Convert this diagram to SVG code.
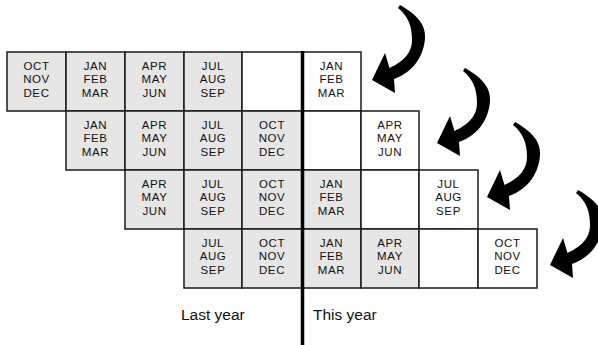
<svg xmlns="http://www.w3.org/2000/svg" xmlns:xlink="http://www.w3.org/1999/xlink" width="598" height="345" viewBox="0 0 598 345">
<style>
.g{fill:#e6e6e6;stroke:#1a1a1a;stroke-width:1.5}
.w{fill:#ffffff;stroke:#1a1a1a;stroke-width:1.5}
.t{font-family:"Liberation Sans",Arial,sans-serif;font-size:11.5px;letter-spacing:0.6px;fill:#111;text-anchor:middle}
.lab{font-family:"Liberation Sans",Arial,sans-serif;font-size:15.5px;fill:#111}
</style>
<defs>
<path id="arr" d="M0,0 L13,-27 L17.5,-12 C30,-18 40,-26 40,-40 C40,-54 36,-64 26,-72 L28,-75 C44,-66 54,-56 53,-42 C52,-25 42,-8 22,-1 L23,13 Z" fill="#000"/>
</defs>
<g id="r1">
<g id="r1c0"><rect class="g" x="7" y="52" width="59" height="59"/><text class="t" x="36.5" y="69.5">OCT</text><text class="t" x="36.5" y="83">NOV</text><text class="t" x="36.5" y="96.5">DEC</text></g>
<g id="r1c1"><rect class="g" x="66" y="52" width="59" height="59"/><text class="t" x="95.5" y="69.5">JAN</text><text class="t" x="95.5" y="83">FEB</text><text class="t" x="95.5" y="96.5">MAR</text></g>
<g id="r1c2"><rect class="g" x="125" y="52" width="59" height="59"/><text class="t" x="154.5" y="69.5">APR</text><text class="t" x="154.5" y="83">MAY</text><text class="t" x="154.5" y="96.5">JUN</text></g>
<g id="r1c3"><rect class="g" x="184" y="52" width="58" height="59"/><text class="t" x="213" y="69.5">JUL</text><text class="t" x="213" y="83">AUG</text><text class="t" x="213" y="96.5">SEP</text></g>
<g id="r1c4"><rect class="w" x="242" y="52" width="60" height="59"/></g>
<g id="r1c5"><rect class="w" x="302" y="52" width="59" height="59"/><text class="t" x="331.5" y="69.5">JAN</text><text class="t" x="331.5" y="83">FEB</text><text class="t" x="331.5" y="96.5">MAR</text></g>
</g>
<g id="r2">
<g id="r2c1"><rect class="g" x="66" y="111" width="59" height="59"/><text class="t" x="95.5" y="128.5">JAN</text><text class="t" x="95.5" y="142">FEB</text><text class="t" x="95.5" y="155.5">MAR</text></g>
<g id="r2c2"><rect class="g" x="125" y="111" width="59" height="59"/><text class="t" x="154.5" y="128.5">APR</text><text class="t" x="154.5" y="142">MAY</text><text class="t" x="154.5" y="155.5">JUN</text></g>
<g id="r2c3"><rect class="g" x="184" y="111" width="58" height="59"/><text class="t" x="213" y="128.5">JUL</text><text class="t" x="213" y="142">AUG</text><text class="t" x="213" y="155.5">SEP</text></g>
<g id="r2c4"><rect class="g" x="242" y="111" width="60" height="59"/><text class="t" x="272" y="128.5">OCT</text><text class="t" x="272" y="142">NOV</text><text class="t" x="272" y="155.5">DEC</text></g>
<g id="r2c5"><rect class="w" x="302" y="111" width="59" height="59"/></g>
<g id="r2c6"><rect class="w" x="361" y="111" width="58" height="59"/><text class="t" x="390" y="128.5">APR</text><text class="t" x="390" y="142">MAY</text><text class="t" x="390" y="155.5">JUN</text></g>
</g>
<g id="r3">
<g id="r3c2"><rect class="g" x="125" y="170" width="59" height="59"/><text class="t" x="154.5" y="187.5">APR</text><text class="t" x="154.5" y="201">MAY</text><text class="t" x="154.5" y="214.5">JUN</text></g>
<g id="r3c3"><rect class="g" x="184" y="170" width="58" height="59"/><text class="t" x="213" y="187.5">JUL</text><text class="t" x="213" y="201">AUG</text><text class="t" x="213" y="214.5">SEP</text></g>
<g id="r3c4"><rect class="g" x="242" y="170" width="60" height="59"/><text class="t" x="272" y="187.5">OCT</text><text class="t" x="272" y="201">NOV</text><text class="t" x="272" y="214.5">DEC</text></g>
<g id="r3c5"><rect class="g" x="302" y="170" width="59" height="59"/><text class="t" x="331.5" y="187.5">JAN</text><text class="t" x="331.5" y="201">FEB</text><text class="t" x="331.5" y="214.5">MAR</text></g>
<g id="r3c6"><rect class="w" x="361" y="170" width="58" height="59"/></g>
<g id="r3c7"><rect class="w" x="419" y="170" width="59" height="59"/><text class="t" x="448.5" y="187.5">JUL</text><text class="t" x="448.5" y="201">AUG</text><text class="t" x="448.5" y="214.5">SEP</text></g>
</g>
<g id="r4">
<g id="r4c3"><rect class="g" x="184" y="229" width="58" height="59"/><text class="t" x="213" y="246.5">JUL</text><text class="t" x="213" y="260">AUG</text><text class="t" x="213" y="273.5">SEP</text></g>
<g id="r4c4"><rect class="g" x="242" y="229" width="60" height="59"/><text class="t" x="272" y="246.5">OCT</text><text class="t" x="272" y="260">NOV</text><text class="t" x="272" y="273.5">DEC</text></g>
<g id="r4c5"><rect class="g" x="302" y="229" width="59" height="59"/><text class="t" x="331.5" y="246.5">JAN</text><text class="t" x="331.5" y="260">FEB</text><text class="t" x="331.5" y="273.5">MAR</text></g>
<g id="r4c6"><rect class="g" x="361" y="229" width="58" height="59"/><text class="t" x="390" y="246.5">APR</text><text class="t" x="390" y="260">MAY</text><text class="t" x="390" y="273.5">JUN</text></g>
<g id="r4c7"><rect class="w" x="419" y="229" width="59" height="59"/></g>
<g id="r4c8"><rect class="w" x="478" y="229" width="59" height="59"/><text class="t" x="507.5" y="246.5">OCT</text><text class="t" x="507.5" y="260">NOV</text><text class="t" x="507.5" y="273.5">DEC</text></g>
</g>
<g id="divider"><line x1="302.5" y1="51" x2="302.5" y2="345" stroke="#000" stroke-width="3.5"/></g>
<g id="connectors">
<use xlink:href="#arr" transform="translate(372,80)"/>
<use xlink:href="#arr" transform="translate(437,143)"/>
<use xlink:href="#arr" transform="translate(487,197)"/>
<use xlink:href="#arr" transform="translate(550,265)"/>
</g>
<g id="labels">
<text class="lab" x="181" y="320">Last year</text>
<text class="lab" x="313" y="320">This year</text>
</g>
</svg>
